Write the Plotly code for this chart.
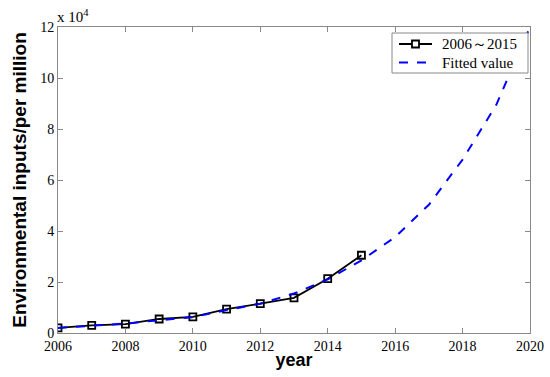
import plotly.graph_objects as go

years_obs = [2006, 2007, 2008, 2009, 2010, 2011, 2012, 2013, 2014, 2015]
obs_vals = [0.2, 0.3, 0.35, 0.55, 0.63, 0.94, 1.15, 1.38, 2.13, 3.05]  # x 10^4
years_fit = [2006, 2007, 2008, 2009, 2010, 2011, 2012, 2013, 2014, 2015,
             2016, 2017, 2018, 2019, 2020]
fit_vals = [0.2, 0.28, 0.37, 0.5, 0.62, 0.9, 1.15, 1.55, 2.1, 2.85,
            3.76, 5.03, 6.8, 8.95, 12.0]
x_ticks = [2006, 2008, 2010, 2012, 2014, 2016, 2018, 2020]
y_ticks = [0, 2, 4, 6, 8, 10, 12]
legend_names = ["2006～2015", "Fitted value"]

serif = "Liberation Serif, Times New Roman, serif"
sans = "Liberation Sans, Arial, sans-serif"

fig = go.Figure()
fig.add_trace(go.Scatter(
    x=years_obs, y=obs_vals, mode="lines+markers", name=legend_names[0],
    line=dict(color="black", width=1.8),
    marker=dict(symbol="square-open", size=7, color="black", line=dict(width=1.8)),
    showlegend=False,
))
fig.add_trace(go.Scatter(
    x=years_fit, y=fit_vals, mode="lines", name=legend_names[1],
    line=dict(color="blue", width=2, dash="dash"),
    showlegend=False,
))

axis_common = dict(
    showgrid=False, zeroline=False, showline=True, linecolor="#888888", linewidth=1,
    mirror="ticks", ticks="inside", ticklen=5, tickcolor="#888888", automargin=False,
    tickfont=dict(family=serif, size=14, color="black"),
)
fig.update_xaxes(range=[2006, 2020], tickvals=x_ticks, **axis_common,
                 title=dict(text="<b>year</b>", font=dict(family=sans, size=18, color="black"), standoff=0))
fig.update_yaxes(range=[0, 12], tickvals=y_ticks, **axis_common,
                 title=dict(text="<b>Environmental inputs/per million</b>",
                            font=dict(family=sans, size=19, color="black"), standoff=8))

# custom legend box (paper coords relative to plot area; plot area spans 472 x 306 px)
W, H = 472.0, 306.0
def px(xp): return (xp - 58) / W
def py(yp): return (333 - yp) / H

shapes = [
    dict(type="rect", xref="paper", yref="paper", x0=px(392), x1=px(528), y0=py(73), y1=py(33),
         line=dict(color="#888888", width=1), fillcolor="white", layer="above"),
    dict(type="line", xref="paper", yref="paper", x0=px(399), x1=px(432), y0=py(44), y1=py(44),
         line=dict(color="black", width=1.8), layer="above"),
    dict(type="rect", xref="paper", yref="paper", x0=px(412), x1=px(419), y0=py(47.5), y1=py(40.5),
         line=dict(color="black", width=1.8), fillcolor="white", layer="above"),
    dict(type="line", xref="paper", yref="paper", x0=px(399), x1=px(432), y0=py(62.5), y1=py(62.5),
         line=dict(color="blue", width=2, dash="dash"), layer="above"),
]

annotations = [
    dict(text="x 10<sup>4</sup>", xref="paper", yref="paper", x=-0.006, y=1.0,
         xanchor="left", yanchor="bottom", showarrow=False,
         font=dict(family=serif, size=15, color="black")),
    dict(text=legend_names[0], xref="paper", yref="paper", x=px(440), y=py(44),
         xanchor="left", yanchor="middle", showarrow=False,
         font=dict(family=serif, size=15, color="black")),
    dict(text=legend_names[1], xref="paper", yref="paper", x=px(440), y=py(62.5),
         xanchor="left", yanchor="middle", showarrow=False,
         font=dict(family=serif, size=15, color="black")),
]

fig.update_layout(
    width=550, height=377,
    margin=dict(l=58, r=20, t=27, b=44),
    plot_bgcolor="white", paper_bgcolor="white",
    shapes=shapes, annotations=annotations,
    showlegend=False,
)

fig.write_html("out.html", config={"displayModeBar": False},
               post_script="document.body.style.margin='0';document.body.style.overflow='hidden';")
